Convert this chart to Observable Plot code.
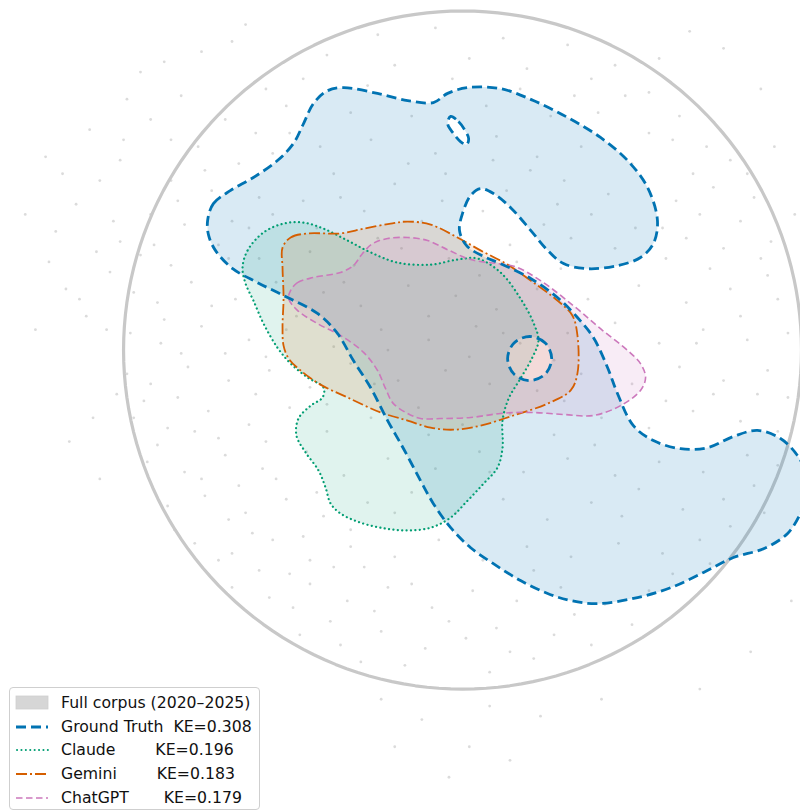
<!DOCTYPE html>
<html><head><meta charset="utf-8">
<script src="https://cdn.jsdelivr.net/npm/d3@7"></script>
<script src="https://cdn.jsdelivr.net/npm/@observablehq/plot@0.6"></script>
<style>
html,body{margin:0;padding:0;background:#fff;overflow:hidden;}
#wrap{position:relative;width:800px;height:812px;}
#chart svg path{fill-rule:evenodd;}
.legend{position:absolute;left:9px;top:687px;width:251px;height:123px;box-sizing:border-box;border:1px solid #cfcfcf;border-radius:4px;background:rgba(255,255,255,0.8);font-family:"DejaVu Sans",sans-serif;font-size:15.7px;color:#111;}
.row{position:absolute;left:0;height:24px;width:100%;}
.row svg{position:absolute;left:5px;top:4px;}
.row span{position:absolute;left:51px;top:1px;white-space:pre;line-height:22px;}
</style>
</head><body>
<div id="wrap"><div id="chart"></div><div class="legend" id="legend"></div></div>
<script>
// ---- data (unit-disk embedding coordinates) ----
const gtOuter = [[-0.752,0.382],[-0.735,0.432],[-0.684,0.471],[-0.617,0.509],[-0.546,0.559],[-0.499,0.609],[-0.469,0.668],[-0.440,0.727],[-0.398,0.765],[-0.351,0.774],[-0.251,0.757],[-0.162,0.736],[-0.086,0.730],[-0.044,0.757],[0.015,0.774],[0.112,0.771],[0.209,0.736],[0.310,0.686],[0.407,0.627],[0.487,0.559],[0.546,0.479],[0.575,0.382],[0.563,0.314],[0.525,0.273],[0.457,0.249],[0.369,0.240],[0.298,0.255],[0.251,0.294],[0.201,0.353],[0.142,0.420],[0.091,0.462],[0.053,0.476],[0.024,0.456],[0.000,0.403],[-0.009,0.353],[0.012,0.308],[0.062,0.276],[0.112,0.255],[0.201,0.211],[0.280,0.155],[0.339,0.096],[0.386,0.037],[0.428,-0.052],[0.457,-0.128],[0.504,-0.223],[0.563,-0.267],[0.643,-0.291],[0.723,-0.288],[0.799,-0.255],[0.870,-0.237],[0.938,-0.261],[0.988,-0.311],[1.015,-0.370],[1.015,-0.435],[0.997,-0.482],[0.959,-0.541],[0.888,-0.586],[0.799,-0.612],[0.711,-0.656],[0.614,-0.701],[0.516,-0.730],[0.398,-0.748],[0.319,-0.739],[0.251,-0.718],[0.171,-0.680],[0.091,-0.630],[0.024,-0.583],[-0.035,-0.524],[-0.086,-0.453],[-0.124,-0.385],[-0.174,-0.291],[-0.221,-0.208],[-0.271,-0.111],[-0.322,-0.031],[-0.369,0.049],[-0.428,0.108],[-0.516,0.155],[-0.605,0.199],[-0.678,0.240],[-0.729,0.294],[-0.749,0.338]];
const gtHoleTop = [[-0.035,0.689],[-0.012,0.674],[0.006,0.650],[0.018,0.624],[0.012,0.606],[-0.006,0.615],[-0.027,0.639],[-0.044,0.668]];
const gtHoleMid = [[0.263,-0.025],[0.244,0.021],[0.198,0.040],[0.152,0.021],[0.133,-0.025],[0.152,-0.071],[0.198,-0.090],[0.244,-0.071]];
const claude = [[-0.649,0.243],[-0.634,0.294],[-0.587,0.347],[-0.528,0.373],[-0.469,0.376],[-0.410,0.358],[-0.339,0.323],[-0.271,0.288],[-0.192,0.258],[-0.094,0.252],[-0.015,0.267],[0.044,0.270],[0.112,0.229],[0.171,0.152],[0.209,0.081],[0.224,0.028],[0.206,-0.022],[0.171,-0.084],[0.136,-0.143],[0.118,-0.208],[0.118,-0.288],[0.103,-0.347],[0.062,-0.394],[0.015,-0.444],[-0.035,-0.494],[-0.094,-0.524],[-0.168,-0.532],[-0.242,-0.524],[-0.310,-0.506],[-0.360,-0.482],[-0.389,-0.453],[-0.404,-0.406],[-0.425,-0.355],[-0.463,-0.302],[-0.490,-0.252],[-0.484,-0.202],[-0.448,-0.164],[-0.413,-0.140],[-0.410,-0.111],[-0.457,-0.081],[-0.507,-0.040],[-0.546,0.007],[-0.587,0.078],[-0.617,0.146],[-0.640,0.196]];
const gemini = [[-0.531,0.302],[-0.507,0.332],[-0.457,0.344],[-0.360,0.344],[-0.292,0.358],[-0.212,0.373],[-0.162,0.379],[-0.094,0.370],[-0.015,0.332],[0.053,0.294],[0.133,0.252],[0.201,0.205],[0.280,0.146],[0.324,0.102],[0.339,0.043],[0.339,-0.069],[0.319,-0.119],[0.251,-0.158],[0.150,-0.193],[0.053,-0.223],[-0.027,-0.235],[-0.094,-0.229],[-0.162,-0.208],[-0.242,-0.184],[-0.339,-0.140],[-0.419,-0.102],[-0.478,-0.060],[-0.513,-0.025],[-0.528,0.013],[-0.531,0.066],[-0.528,0.155],[-0.531,0.243]];
const chatgpt = [[-0.507,0.176],[-0.487,0.199],[-0.440,0.214],[-0.360,0.229],[-0.322,0.249],[-0.295,0.285],[-0.265,0.314],[-0.221,0.329],[-0.162,0.332],[-0.103,0.323],[-0.044,0.296],[0.024,0.267],[0.103,0.255],[0.156,0.246],[0.230,0.205],[0.327,0.131],[0.407,0.063],[0.487,-0.001],[0.525,-0.040],[0.540,-0.081],[0.525,-0.119],[0.466,-0.164],[0.386,-0.193],[0.298,-0.190],[0.201,-0.184],[0.112,-0.187],[0.024,-0.199],[-0.065,-0.202],[-0.124,-0.202],[-0.162,-0.187],[-0.204,-0.158],[-0.227,-0.114],[-0.251,-0.060],[-0.292,-0.007],[-0.360,0.043],[-0.428,0.078],[-0.487,0.117],[-0.513,0.152]];
const corpusDots = [
[-1.29,0.40],[-1.23,0.57],[-1.20,0.35],[-1.17,0.18],[-1.14,0.43],[-1.13,0.15],[-1.10,0.65],[-1.08,0.29],[-1.07,0.50],[-1.05,0.06],[-1.04,0.23],[-1.03,0.38],[-1.02,-0.13],[-1.01,0.56],[-1.01,0.32],[-0.99,0.74],[-0.95,0.82],[-0.88,0.85],[-0.83,0.75],[-0.77,0.88],[-0.68,0.91],[-0.64,0.96],[-1.16,-0.27],[-1.07,-0.38],[-1.26,0.06],
[-0.24,-1.03],[-0.12,-1.09],[0.02,-1.17],[0.14,-1.21],[-0.04,-1.26],[0.23,-1.08],[0.41,-1.03],[-0.20,-1.17],[0.08,-1.05],
[0.77,0.89],[0.67,0.94],[0.88,0.77],[0.97,-0.74],[0.85,-0.89],[0.70,-1.00],
[-0.25,0.93],[-0.08,0.95],[0.12,0.92],[0.31,0.9],[-0.4,0.87],[0.45,0.84],
[-0.58,0.77],[-0.47,0.8],[-0.2,0.84],[0.02,0.86],[0.19,0.83],[0.38,0.8],[0.55,0.76],[0.64,0.69],
[-0.7,0.68],[-0.61,0.64],[-0.33,0.7],[-0.15,0.69],[0.07,0.72],[0.26,0.69],[0.4,0.7],[0.62,0.62],[0.72,0.6],[-0.52,0.72],
[-0.78,0.6],[-0.66,0.55],[-0.42,0.6],[-0.27,0.62],[-0.08,0.58],[0.1,0.63],[0.22,0.57],[0.35,0.6],[0.5,0.55],[0.68,0.52],[0.79,0.56],[-0.56,0.58],
[-0.86,0.5],[-0.74,0.47],[-0.6,0.45],[-0.38,0.52],[-0.2,0.49],[-0.05,0.52],[0.13,0.47],[0.3,0.5],[0.43,0.46],[0.63,0.44],[0.74,0.48],[0.86,0.45],[-0.47,0.44],[0.2,0.53],
[-0.92,0.4],[-0.82,0.37],[-0.68,0.38],[-0.43,0.36],[-0.29,0.41],[-0.12,0.38],[0.06,0.41],[0.24,0.37],[0.38,0.4],[0.51,0.36],[0.66,0.33],[0.82,0.38],[0.91,0.32],[-0.56,0.4],
[-0.95,0.28],[-0.86,0.25],[-0.72,0.31],[-0.6,0.27],[-0.45,0.29],[-0.32,0.25],[-0.18,0.3],[-0.04,0.27],[0.14,0.31],[0.29,0.24],[0.45,0.3],[0.6,0.27],[0.73,0.24],[0.88,0.27],[-0.25,0.33],[0.05,0.22],
[-0.97,0.17],[-0.9,0.14],[-0.8,0.2],[-0.67,0.15],[-0.55,0.2],[-0.41,0.17],[-0.3,0.13],[-0.16,0.19],[-0.02,0.16],[0.1,0.12],[0.22,0.18],[0.37,0.15],[0.52,0.19],[0.66,0.14],[0.79,0.18],[0.93,0.15],[-0.49,0.1],
[-0.98,0.05],[-0.89,0.02],[-0.77,0.07],[-0.63,0.03],[-0.52,0.06],[-0.38,0.01],[-0.24,0.06],[-0.1,0.03],[0.04,0.07],[0.17,0.02],[0.31,0.05],[0.45,0.08],[0.58,0.02],[0.71,0.06],[0.84,0.03],[0.96,0.05],[-0.7,-0.01],
[-0.99,-0.07],[-0.92,-0.1],[-0.81,-0.05],[-0.69,-0.09],[-0.57,-0.06],[-0.45,-0.11],[-0.33,-0.04],[-0.19,-0.09],[-0.05,-0.06],[0.08,-0.1],[0.22,-0.12],[0.35,-0.07],[0.5,-0.1],[0.64,-0.05],[0.77,-0.09],[0.9,-0.06],
[-0.97,-0.2],[-0.87,-0.23],[-0.75,-0.18],[-0.63,-0.22],[-0.51,-0.17],[-0.4,-0.24],[-0.27,-0.2],[-0.13,-0.17],[0.0,-0.22],[0.14,-0.19],[0.27,-0.25],[0.41,-0.2],[0.55,-0.23],[0.68,-0.18],[0.82,-0.21],[0.93,-0.24],[-0.58,-0.27],
[-0.93,-0.33],[-0.82,-0.36],[-0.7,-0.31],[-0.59,-0.35],[-0.46,-0.3],[-0.35,-0.37],[-0.22,-0.32],[-0.08,-0.35],[0.05,-0.3],[0.18,-0.36],[0.31,-0.32],[0.45,-0.37],[0.58,-0.33],[0.71,-0.36],[0.84,-0.31],[-0.66,-0.4],
[-0.87,-0.46],[-0.76,-0.43],[-0.64,-0.48],[-0.52,-0.44],[-0.41,-0.49],[-0.28,-0.45],[-0.15,-0.42],[-0.02,-0.48],[0.12,-0.44],[0.25,-0.5],[0.38,-0.45],[0.52,-0.41],[0.65,-0.47],[0.77,-0.44],[0.86,-0.4],[-0.33,-0.53],
[-0.79,-0.57],[-0.68,-0.6],[-0.56,-0.56],[-0.45,-0.62],[-0.33,-0.58],[-0.2,-0.61],[-0.07,-0.56],[0.06,-0.62],[0.19,-0.58],[0.32,-0.61],[0.46,-0.57],[0.59,-0.6],[0.7,-0.56],[-0.51,-0.66],
[-0.68,-0.7],[-0.57,-0.73],[-0.45,-0.69],[-0.34,-0.74],[-0.22,-0.7],[-0.09,-0.76],[0.03,-0.71],[0.16,-0.74],[0.29,-0.7],[0.42,-0.75],[0.55,-0.71],[-0.39,-0.8],
[-0.48,-0.84],[-0.36,-0.87],[-0.24,-0.83],[-0.11,-0.88],[0.01,-0.85],[0.14,-0.89],[0.27,-0.84],[0.38,-0.87],[-0.17,-0.93],[0.08,-0.95],[-0.3,-0.92],
[-0.84,-0.14],[-0.72,-0.26],[-0.61,-0.13],[-0.77,-0.38],[-0.55,-0.38],[-0.69,-0.5],[-0.47,-0.55],[-0.6,-0.65],[-0.38,-0.64],[-0.26,-0.77],
[-0.1,0.1],[0.02,-0.02],[-0.22,0.0],[0.12,0.05],[0.27,-0.03],[-0.35,0.2],[0.16,0.26],[0.32,0.33],[-0.06,0.44],[0.09,0.56],
[-0.91,0.31],[-0.84,0.44],[-0.76,0.53],[-0.69,0.27],[-0.63,0.36],[-0.88,0.09],[-0.83,-0.01],[-0.74,0.13],[-0.94,-0.15],[-0.79,-0.24],
[-0.9,-0.28],[-0.85,-0.53],[-0.72,-0.62],[-0.62,-0.54],[-0.5,-0.76],[-0.43,-0.42],[-0.29,-0.64],[-0.15,-0.69],[-0.04,-0.8],[0.1,-0.82],
[0.21,-0.91],[0.33,-0.78],[0.5,-0.81],[0.62,-0.66],[0.73,-0.63],[0.79,-0.52],[0.89,-0.48],[0.93,-0.34],[0.96,-0.14],[0.87,-0.13],
[0.74,-0.13],[0.6,-0.15],[0.69,0.02],[0.82,0.1],[0.9,0.22],[0.77,0.3],[0.7,0.4],[0.59,0.36],[0.84,0.52],[0.76,0.65],
[0.55,0.64],[0.48,0.75],[0.33,0.75],[0.17,0.77],[-0.03,0.8],[-0.28,0.78],[-0.51,0.64],[-0.36,0.45],[-0.16,0.55],[0.28,0.43],
[-0.2,-0.48],[-0.1,-0.25],[0.08,-0.36],[0.3,-0.15],[0.39,-0.28],[0.47,-0.49],[0.21,-0.65],[-0.4,-0.16],[-0.58,-0.02],[-0.26,-0.1],
[-1.18,0.52],[-1.11,0.1],[-1.22,0.26],[-1.09,-0.2],[-1.0,0.62],[-0.92,0.68],[-0.86,0.62],[0.58,0.86],[0.92,0.6],[0.98,0.4]
];
const seriesNames = ["Ground Truth","Claude","Gemini","ChatGPT"];
const keValues = [0.308, 0.196, 0.183, 0.179];
const colors = ["#0173B2","#029E73","#D55E00","#CC78BC"];

// ---- helpers ----
function ringsToRows(rings){const rows=[];rings.forEach((r,i)=>{if(i)rows.push({x:NaN,y:NaN});r.forEach(([x,y])=>rows.push({x,y}));});return rows;}
const gtRows = ringsToRows([gtOuter, gtHoleTop, gtHoleMid]);
const claudeRows = ringsToRows([claude]);
const geminiRows = ringsToRows([gemini]);
const chatRows = ringsToRows([chatgpt]);
// unit-disk boundary (reference frame)
const disk = d3.range(0, 360, 2).map(a => ({x: Math.cos(a*Math.PI/180), y: Math.sin(a*Math.PI/180)}));

const curve = "catmull-rom-closed";
const fillMark = (rows, c, o) => Plot.line(rows, {x:"x", y:"y", curve, fill:c, fillOpacity:o, stroke:"none"});
const strokeMark = (rows, c, w, dash, cap) => Plot.line(rows, {x:"x", y:"y", curve, fill:"none", stroke:c, strokeWidth:w, strokeDasharray:dash, strokeLinecap:cap||"butt"});

const chart = Plot.plot({
  width: 800, height: 812, margin: 0,
  x: {domain: [-1.363, 0.997], axis: null},
  y: {domain: [-1.364, 1.031], axis: null},
  style: {background: "white"},
  marks: [
    Plot.dot(corpusDots, {x: d => d[0], y: d => d[1], r: 1.4, fill: "#999", fillOpacity: 0.35, stroke: "none"}),
    Plot.line(disk, {x:"x", y:"y", curve:"linear-closed", stroke:"#c8c8c8", strokeWidth:3.2, fill:"none"}),
    fillMark(gtRows, colors[0], 0.15),
    fillMark(claudeRows, colors[1], 0.12),
    fillMark(geminiRows, colors[2], 0.13),
    fillMark(chatRows, colors[3], 0.14),
    strokeMark(claudeRows, colors[1], 2.2, "0.1,4.3", "round"),
    strokeMark(geminiRows, colors[2], 1.8, "11,3,2,3"),
    strokeMark(chatRows, colors[3], 1.6, "6.5,3.5"),
    strokeMark(gtRows, colors[0], 2.8, "10,5")
  ]
});
document.getElementById("chart").appendChild(chart);

// ---- legend ----
const legend = document.getElementById("legend");
const tops = [3, 26.7, 50.4, 74.1, 97.8];
const labels = ["Full corpus (2020\u20132025)",
  seriesNames[0] + "  KE=" + keValues[0].toFixed(3),
  seriesNames[1] + "        KE=" + keValues[1].toFixed(3),
  seriesNames[2] + "        KE=" + keValues[2].toFixed(3),
  seriesNames[3] + "       KE=" + keValues[3].toFixed(3)];
const handles = [
  '<rect x="1" y="1" width="32" height="13" fill="#d6d6d6" stroke="#cfcfcf" stroke-width="0.8"/>',
  `<line x1="1" y1="8" x2="33" y2="8" stroke="${colors[0]}" stroke-width="2.8" stroke-dasharray="10,5"/>`,
  `<line x1="2" y1="8" x2="33" y2="8" stroke="${colors[1]}" stroke-width="2" stroke-dasharray="0.1,4.3" stroke-linecap="round"/>`,
  `<line x1="1" y1="8" x2="33" y2="8" stroke="${colors[2]}" stroke-width="1.8" stroke-dasharray="11,3,2,3"/>`,
  `<line x1="1" y1="8" x2="33" y2="8" stroke="${colors[3]}" stroke-width="1.6" stroke-dasharray="6.5,3.5"/>`];
labels.forEach((t, i) => {
  const row = document.createElement("div");
  row.className = "row"; row.style.top = tops[i] + "px";
  row.innerHTML = `<svg width="34" height="16">${handles[i]}</svg><span></span>`;
  row.querySelector("span").textContent = t;
  legend.appendChild(row);
});
</script>
</body></html>
